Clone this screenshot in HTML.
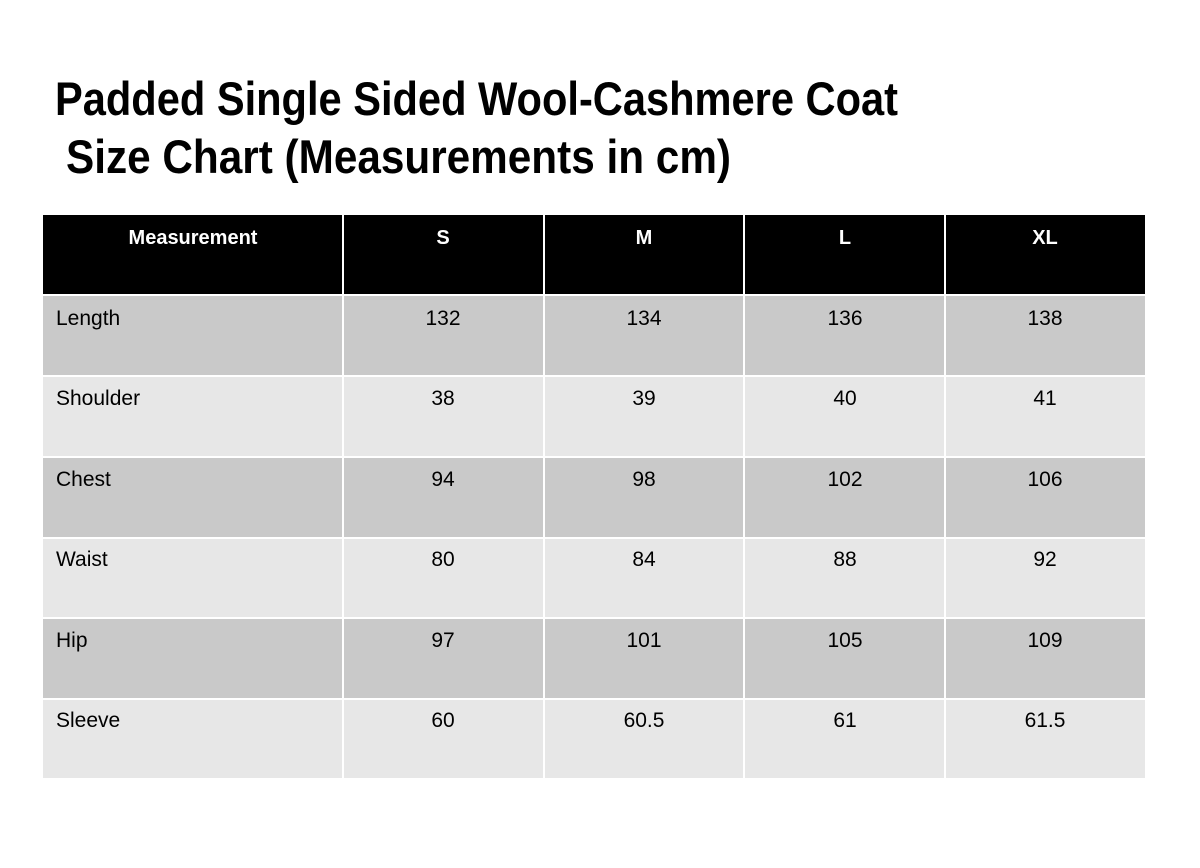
<!DOCTYPE html>
<html><head><meta charset="utf-8"><style>
html,body{margin:0;padding:0;background:#fff;}
svg{display:block;}
</style></head><body>
<svg width="1200" height="868" xmlns="http://www.w3.org/2000/svg" font-family="Liberation Sans, sans-serif">
<rect width="1200" height="868" fill="#fff"/>
<text x="55" y="115" font-size="47" font-weight="bold" textLength="843" lengthAdjust="spacingAndGlyphs">Padded Single Sided Wool-Cashmere Coat</text>
<text x="66" y="173" font-size="47" font-weight="bold" textLength="665" lengthAdjust="spacingAndGlyphs">Size Chart (Measurements in cm)</text>
<g>
<rect x="43" y="215" width="1102" height="79" fill="#000"/>
<rect x="43" y="295" width="1102" height="80" fill="#c9c9c9"/>
<rect x="43" y="376" width="1102" height="80" fill="#e7e7e7"/>
<rect x="43" y="457" width="1102" height="80" fill="#c9c9c9"/>
<rect x="43" y="538" width="1102" height="79" fill="#e7e7e7"/>
<rect x="43" y="618" width="1102" height="80" fill="#c9c9c9"/>
<rect x="43" y="699" width="1102" height="79" fill="#e7e7e7"/>
<g fill="#fff">
<rect x="342" y="215" width="2" height="563"/>
<rect x="543" y="215" width="2" height="563"/>
<rect x="743" y="215" width="2" height="563"/>
<rect x="944" y="215" width="2" height="563"/>
<rect x="43" y="294" width="1102" height="2"/>
<rect x="43" y="375" width="1102" height="2"/>
<rect x="43" y="456" width="1102" height="2"/>
<rect x="43" y="537" width="1102" height="2"/>
<rect x="43" y="617" width="1102" height="2"/>
<rect x="43" y="698" width="1102" height="2"/>
</g>
</g>
<g font-size="20" font-weight="bold" fill="#fff" text-anchor="middle">
<text x="193" y="244">Measurement</text>
<text x="443" y="244">S</text>
<text x="644" y="244">M</text>
<text x="845" y="244">L</text>
<text x="1045" y="244">XL</text>
</g>
<g font-size="21" fill="#000">
<g text-anchor="start">
<text x="56" y="325">Length</text>
<text x="56" y="405">Shoulder</text>
<text x="56" y="486">Chest</text>
<text x="56" y="566">Waist</text>
<text x="56" y="647">Hip</text>
<text x="56" y="727">Sleeve</text>
</g>
<g text-anchor="middle">
<text x="443" y="325">132</text><text x="644" y="325">134</text><text x="845" y="325">136</text><text x="1045" y="325">138</text>
<text x="443" y="405">38</text><text x="644" y="405">39</text><text x="845" y="405">40</text><text x="1045" y="405">41</text>
<text x="443" y="486">94</text><text x="644" y="486">98</text><text x="845" y="486">102</text><text x="1045" y="486">106</text>
<text x="443" y="566">80</text><text x="644" y="566">84</text><text x="845" y="566">88</text><text x="1045" y="566">92</text>
<text x="443" y="647">97</text><text x="644" y="647">101</text><text x="845" y="647">105</text><text x="1045" y="647">109</text>
<text x="443" y="727">60</text><text x="644" y="727">60.5</text><text x="845" y="727">61</text><text x="1045" y="727">61.5</text>
</g>
</g>
</svg>
</body></html>
